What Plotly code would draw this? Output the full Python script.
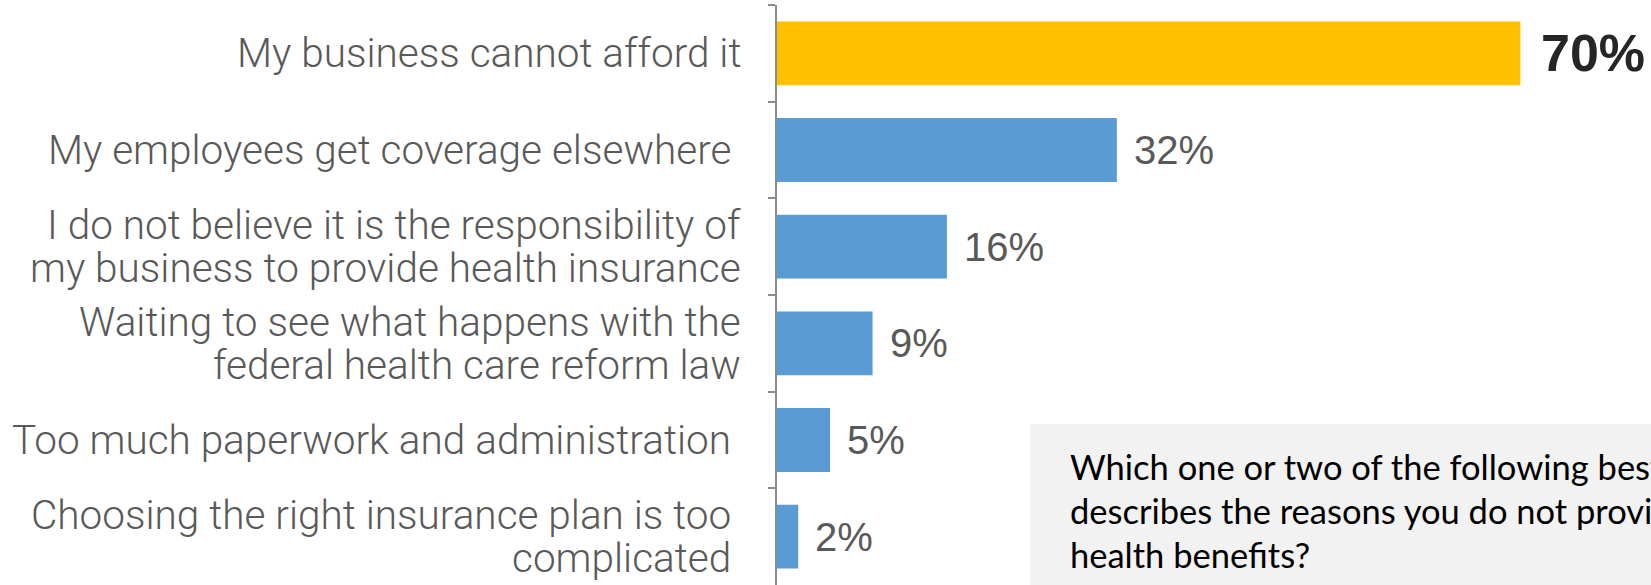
import plotly.graph_objects as go

categories = [
    "My business cannot afford it",
    "My employees get coverage elsewhere\u00a0",
    "I do not believe it is the responsibility of<br>my business to provide health insurance",
    "Waiting to see what happens with the<br>federal health care reform law",
    "Too much paperwork and administration\u00a0",
    "Choosing the right insurance plan is too\u00a0<br>complicated\u00a0",
]
values = [70, 32, 16, 9, 5, 2]
value_labels = ["70%", "32%", "16%", "9%", "5%", "2%"]
bar_colors = ["#FFC000", "#5B9BD5", "#5B9BD5", "#5B9BD5", "#5B9BD5", "#5B9BD5"]
question_lines = [
    "Which one or two of the following best",
    "describes the reasons you do not provide",
    "health benefits?",
]

W, H = 1651, 585
ML, MT, MB, MR = 777, 5, 0, 0
PW, PH = W - ML - MR, H - MT - MB

fig = go.Figure()
fig.add_trace(go.Bar(
    x=values, y=categories, orientation="h",
    marker=dict(color=bar_colors, line=dict(width=0)),
    width=0.66, hoverinfo="skip",
))

annotations = []
LS = 43
for i, (c, v, lab) in enumerate(zip(categories, values, value_labels)):
    lines = c.split("<br>")
    n = len(lines)
    for j, line in enumerate(lines):
        annotations.append(dict(
            x=0, y=c, xref="x", yref="y", text=line, showarrow=False,
            xanchor="right", yanchor="middle", align="right", xshift=-34,
            yshift=-(j - (n - 1) / 2) * LS,
            font=dict(family="Roboto", size=40.5, color="#595959", weight=300),
        ))
    bold = i == 0
    annotations.append(dict(
        x=v, y=c, xref="x", yref="y", text=lab, showarrow=False,
        xanchor="left", yanchor="middle", xshift=19 if bold else 15,
        font=dict(family="Liberation Sans", size=52 if bold else 40,
                  color="#262626" if bold else "#595959",
                  weight="bold" if bold else "normal"),
    ))

q_y = [466, 510, 554]
for line, yp in zip(question_lines, q_y):
    annotations.append(dict(
        x=(1068 - ML) / PW, y=(H - yp) / PH, xref="paper", yref="paper",
        text=line, showarrow=False, xanchor="left", yanchor="middle", align="left",
        font=dict(family="Lato", size=34.5, color="#000000"),
    ))

fig.update_layout(
    width=W, height=H,
    margin=dict(l=ML, r=MR, t=MT, b=MB, pad=0),
    paper_bgcolor="white", plot_bgcolor="white",
    showlegend=False,
    annotations=annotations,
    shapes=[dict(type="rect", xref="paper", yref="paper",
                 x0=(1030 - ML) / PW, x1=1.2,
                 y0=-0.05, y1=(H - 424) / PH,
                 fillcolor="#F2F2F2", line=dict(width=0), layer="below")],
    xaxis=dict(range=[0, PW / 10.62], visible=False, fixedrange=True),
    yaxis=dict(
        categoryorder="array", categoryarray=categories,
        range=[5.5, -0.5], showticklabels=False,
        showline=True, linecolor="#8C8C8C", linewidth=1.5,
        ticks="outside", ticklen=7, tickcolor="#8C8C8C", tickwidth=1.5,
        tickson="boundaries", showgrid=False, zeroline=False,
    ),
)

fig.write_html("out.html")
